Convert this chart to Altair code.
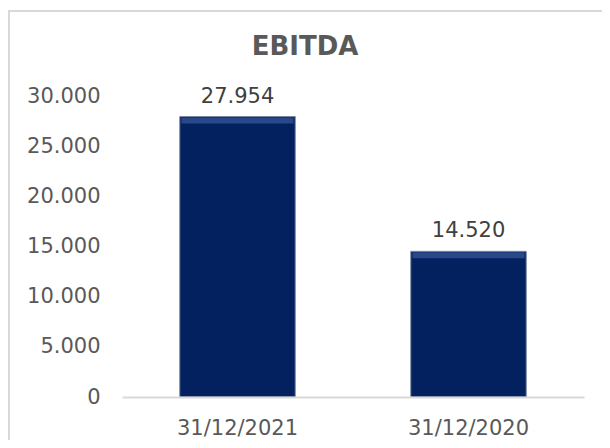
import altair as alt
import pandas as pd

categories = ["31/12/2021", "31/12/2020"]
values = [27954, 14520]
title_text = "EBITDA"

df = pd.DataFrame({"date": categories, "value": values})

FONT = "DejaVu Sans"
W, H = 462, 301

base = alt.Chart(df).transform_calculate(
    label="replace(format(datum.value, ','), ',', '.')"
)

x_enc = alt.X(
    "date:N",
    sort=None,
    scale=alt.Scale(paddingInner=0.5, paddingOuter=0.25),
    axis=alt.Axis(
        title=None,
        labelAngle=0,
        labelFont=FONT,
        labelFontSize=21,
        labelColor="#595959",
        labelPadding=20,
        ticks=False,
        domainColor="#d9d9d9",
        domainWidth=2,
        grid=False,
        zindex=1,
    ),
)
y_enc = alt.Y(
    "value:Q",
    scale=alt.Scale(domain=[0, 30000]),
    axis=alt.Axis(
        title=None,
        values=[0, 5000, 10000, 15000, 20000, 25000, 30000],
        labelExpr="replace(format(datum.value, ','), ',', '.')",
        labelFont=FONT,
        labelFontSize=21,
        labelColor="#595959",
        labelPadding=22,
        ticks=False,
        domain=False,
        grid=False,
        zindex=1,
    ),
)

frame = alt.Chart(alt.Data(values=[{}])).mark_rect(
    fillOpacity=0, stroke="#d9d9d9", strokeWidth=2
).encode(
    x=alt.value(-113), x2=alt.value(700), y=alt.value(-85), y2=alt.value(500)
)

title = alt.Chart(alt.Data(values=[{"t": title_text}])).mark_text(
    font=FONT, fontSize=26, fontWeight="bold", color="#595959",
    align="center", baseline="alphabetic"
).encode(x=alt.value(183), y=alt.value(-41), text="t:N")

bars = base.mark_bar(color="#03215f", stroke="#7f8aa3", strokeWidth=1).encode(
    x=x_enc, y=y_enc
)

bevel = base.mark_tick(
    color="#2c4c8e", thickness=6, size=112, yOffset=4, opacity=0.9
).encode(x=alt.X("date:N", sort=None), y="value:Q")

labels = base.mark_text(
    font=FONT, fontSize=21, color="#404040", baseline="bottom", dy=-10
).encode(x=alt.X("date:N", sort=None), y="value:Q", text="label:N")

chart = alt.layer(frame, bars, bevel, labels, title).properties(
    width=W,
    height=H,
    autosize=alt.AutoSizeParams(type="none"),
    padding={"left": 114, "top": 88, "right": 18, "bottom": 43},
).configure_view(stroke=None)

chart.save("out.html", embed_options={"renderer": "svg", "actions": False})
